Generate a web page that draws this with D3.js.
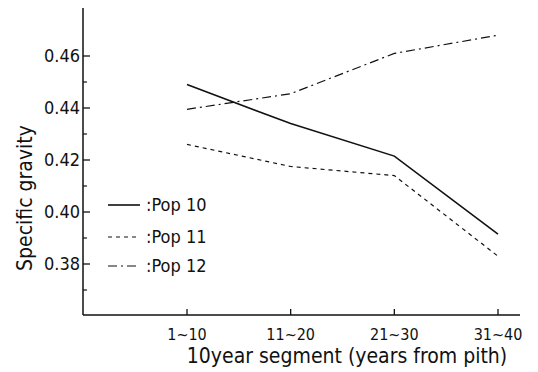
<!DOCTYPE html>
<html>
<head>
<meta charset="utf-8">
<script src="https://cdn.jsdelivr.net/npm/d3@7"></script>
<style>
  body { margin: 0; background: #fff; }
  text { font-family: "DejaVu Sans Condensed", "Liberation Sans", sans-serif; fill: #111; }
</style>
</head>
<body>
<div id="chart-area"></div>
<script>
const width = 538, height = 372;

// data
const segments = ['1~10', '11~20', '21~30', '31~40'];
const pop10 = [0.449, 0.434, 0.4215, 0.3915];
const pop11 = [0.426, 0.4175, 0.414, 0.383];
const pop12 = [0.4395, 0.4455, 0.461, 0.468];
const seriesNames = ['Pop 10', 'Pop 11', 'Pop 12'];
const majorTicks = [0.38, 0.40, 0.42, 0.44, 0.46];
const minorTicks = [0.37, 0.39, 0.41, 0.43, 0.45];

const svg = d3.select('#chart-area').append('svg')
  .attr('width', width)
  .attr('height', height)

const axisX = 83, axisBottom = 315, axisTop = 8, axisRight = 520;

const x = d3.scalePoint().domain(segments).range([187, 498]);
const y = d3.scaleLinear().domain([0.38, 0.46]).range([264, 56]);

// y axis
svg.append('line')
  .attr('x1', axisX).attr('x2', axisX)
  .attr('y1', axisTop).attr('y2', axisBottom)
  .attr('stroke', '#111').attr('stroke-width', 1.5)

svg.selectAll('.major').data(majorTicks).enter().append('line')
  .attr('x1', axisX).attr('x2', axisX + 7)
  .attr('y1', d => y(d)).attr('y2', d => y(d))
  .attr('stroke', '#111').attr('stroke-width', 1.3)

svg.selectAll('.minor').data(minorTicks).enter().append('line')
  .attr('x1', axisX).attr('x2', axisX + 4)
  .attr('y1', d => y(d)).attr('y2', d => y(d))
  .attr('stroke', '#111').attr('stroke-width', 1.2)

svg.selectAll('.ylab').data(majorTicks).enter().append('text')
  .attr('x', axisX - 3)
  .attr('y', d => y(d) + 6)
  .attr('text-anchor', 'end')
  .attr('font-size', 18)
  .text(d => d.toFixed(2))

// x axis
svg.append('line')
  .attr('x1', axisX).attr('x2', axisRight)
  .attr('y1', axisBottom).attr('y2', axisBottom)
  .attr('stroke', '#111').attr('stroke-width', 1.3)

svg.selectAll('.xtick').data(segments).enter().append('line')
  .attr('x1', d => x(d)).attr('x2', d => x(d))
  .attr('y1', axisBottom).attr('y2', axisBottom - 6)
  .attr('stroke', '#111').attr('stroke-width', 1.3)

svg.selectAll('.xlab').data(segments).enter().append('text')
  .attr('x', d => x(d))
  .attr('y', 340)
  .attr('text-anchor', 'middle')
  .attr('font-size', 16)
  .text(d => d)

svg.append('text')
  .attr('x', 347).attr('y', 363)
  .attr('text-anchor', 'middle')
  .attr('font-size', 21)
  .text('10year segment (years from pith)')

svg.append('text')
  .attr('transform', 'translate(32,198) rotate(-90)')
  .attr('text-anchor', 'middle')
  .attr('font-size', 21)
  .text('Specific gravity')

// lines
const styles = [
  {dash: null, w: 1.6},
  {dash: '4,4', w: 1.2},
  {dash: '9,4,2,4', w: 1.2}
];
const line = d3.line().x((d, i) => x(segments[i])).y(d => y(d));

[pop10, pop11, pop12].forEach((s, k) => {
  svg.append('path')
    .datum(s)
    .attr('d', line)
    .attr('fill', 'none')
    .attr('stroke', '#111')
    .attr('stroke-width', styles[k].w)
    .attr('stroke-dasharray', styles[k].dash)
})

// legend
const legendY = [205, 237, 266];
seriesNames.forEach((n, k) => {
  svg.append('line')
    .attr('x1', 108).attr('x2', 140)
    .attr('y1', legendY[k]).attr('y2', legendY[k])
    .attr('stroke', '#111')
    .attr('stroke-width', styles[k].w)
    .attr('stroke-dasharray', styles[k].dash)
  svg.append('text')
    .attr('x', 146).attr('y', legendY[k] + 6)
    .attr('font-size', 18)
    .text(':' + n)
})
</script>
</body>
</html>
